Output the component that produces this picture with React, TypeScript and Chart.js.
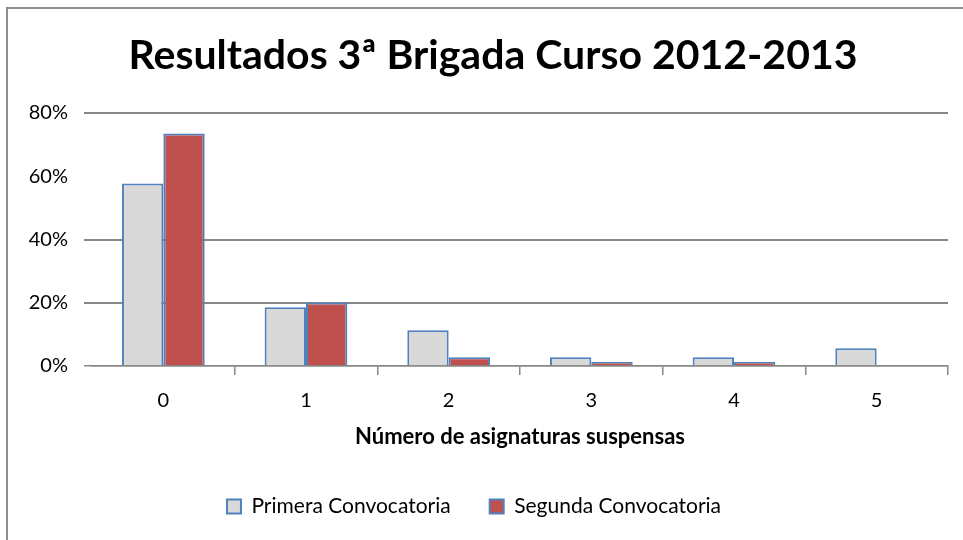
import React, { useEffect, useRef } from "react";
import { Chart, registerables } from "chart.js";

Chart.register(...registerables);

const chartTitle = "Resultados 3ª Brigada Curso 2012-2013";
const xAxisTitle = "Número de asignaturas suspensas";
const categories = ["0", "1", "2", "3", "4", "5"];
const seriesNames = ["Primera Convocatoria", "Segunda Convocatoria"];
const primera = [57.7, 18.6, 11.3, 2.8, 2.8, 5.6];
const segunda = [73.5, 20.1, 2.8, 1.3, 1.3, 0];
const yTicks = [0, 20, 40, 60, 80];

const FONT = "Lato, 'Noto Sans', 'DejaVu Sans', sans-serif";
const GRID = "#878787";

export default function App() {
  const ref = useRef<HTMLCanvasElement | null>(null);
  useEffect(() => {
    if (!ref.current) return;
    const decor = {
      id: "decor",
      beforeDraw(chart: any) {
        const ctx = chart.ctx;
        ctx.save();
        ctx.strokeStyle = "#8f8f8f";
        ctx.lineWidth = 2;
        ctx.beginPath();
        ctx.moveTo(7, 540);
        ctx.lineTo(7, 8);
        ctx.lineTo(963, 8);
        ctx.stroke();
        ctx.restore();
      },
      afterDraw(chart: any) {
        const ctx = chart.ctx;
        ctx.save();
        ctx.font = `bold 41px ${FONT}`;
        ctx.fillStyle = "#000";
        ctx.textAlign = "center";
        ctx.textBaseline = "middle";
        ctx.fillText(chartTitle, 493, 56);
        ctx.restore();
      },
    };
    const chart = new Chart(ref.current, {
      type: "bar",
      data: {
        labels: categories,
        datasets: [
          {
            label: seriesNames[0],
            data: primera,
            backgroundColor: "#D9D9D9",
            borderColor: "#4F81BD",
            borderWidth: 2,
          },
          {
            label: seriesNames[1],
            data: segunda,
            backgroundColor: "#C0504D",
            borderColor: "#4F81BD",
            borderWidth: 2,
          },
        ],
      },
      plugins: [decor],
      options: {
        animation: false,
        responsive: false,
        maintainAspectRatio: false,
        layout: { padding: { top: 113, left: 0, right: 15, bottom: 13 } },
        datasets: {
          bar: { categoryPercentage: 0.58, barPercentage: 1.0 },
        },
        plugins: {
          title: { display: false },
          tooltip: { enabled: false },
          legend: {
            position: "bottom",
            labels: {
              boxWidth: 14,
              boxHeight: 14,
              padding: 39,
              color: "#000",
              font: { family: FONT, size: 21 },
            },
          },
        },
        scales: {
          x: {
            grid: {
              offset: true,
              drawOnChartArea: false,
              tickLength: 9,
              color: (c: any) => (c.index === 0 ? "rgba(0,0,0,0)" : GRID),
              lineWidth: 1.5,
            },
            border: { display: true, color: GRID, width: 1.5 },
            ticks: {
              color: "#000",
              padding: 14,
              font: { family: FONT, size: 20 },
            },
            title: {
              display: true,
              text: xAxisTitle,
              color: "#000",
              font: { family: FONT, size: 22, weight: "bold" },
              padding: { top: 0, bottom: 7 },
            },
            afterFit: (s: any) => {
              s.height = 91;
            },
          },
          y: {
            min: 0,
            max: 80,
            afterBuildTicks: (s: any) => {
              s.ticks = yTicks.map((v) => ({ value: v }));
            },
            grid: {
              tickLength: 8,
              color: (c: any) =>
                c.tick && c.tick.value === 60 ? "rgba(0,0,0,0)" : GRID,
              lineWidth: (c: any) => (c.tick && c.tick.value === 0 ? 1.5 : 2),
            },
            border: { display: false },
            ticks: {
              color: "#000",
              padding: 16,
              font: { family: FONT, size: 20 },
              callback: (v: any) => `${v}%`,
            },
            afterFit: (s: any) => {
              s.width = 92;
            },
          },
        },
      },
    });
    return () => chart.destroy();
  }, []);
  return (
    <div style={{ position: "fixed", left: 0, top: 0, width: 963, height: 540, background: "#fff" }}>
      <canvas ref={ref} width={963} height={540} style={{ display: "block" }} />
    </div>
  );
}
